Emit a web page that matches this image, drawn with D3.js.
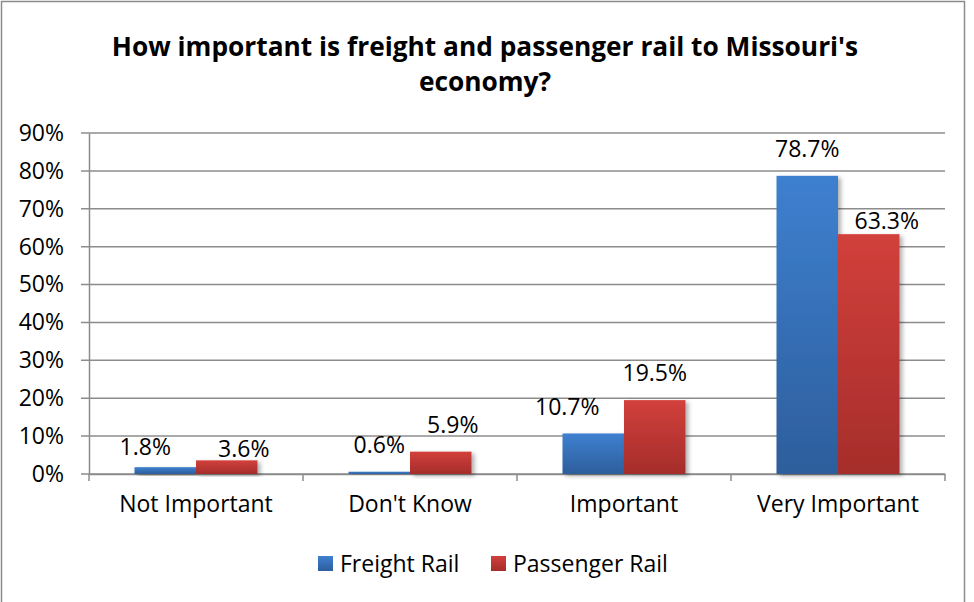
<!DOCTYPE html>
<html>
<head>
<meta charset="utf-8">
<script src="https://cdn.jsdelivr.net/npm/d3@7"></script>
<style>
  body { margin: 0; background: #fff; }
  text { font-family: "Open Sans", sans-serif; fill: #000; }
</style>
</head>
<body>
<script>
// chart data
var categories = ["Not Important", "Don't Know", "Important", "Very Important"];
var seriesNames = ["Freight Rail", "Passenger Rail"];
var freight = [1.8, 0.6, 10.7, 78.7];
var passenger = [3.6, 5.9, 19.5, 63.3];
var yTicks = [0, 10, 20, 30, 40, 50, 60, 70, 80, 90];

var svgWidth = 974;
var svgHeight = 602;
var fontSize = 23;

// label gap above bars, plus the labels that were moved by hand in the original [dx, dy]
var labelGap = 19;
var labelNudge = {
  "Not Important": [[-20, 7], [17, 16]],
  "Don't Know": [[0, 0], [12, 0]],
  "Important": [[-26, 1], [0, 0]],
  "Very Important": [[0, 0], [18, 14]]
};

var margin = { top: 133, right: 29, bottom: 128, left: 89 };
var chartWidth = svgWidth - margin.left - margin.right;
var chartHeight = svgHeight - margin.top - margin.bottom;

var svg = d3.select("body")
  .append("svg")
  .attr("width", svgWidth)
  .attr("height", svgHeight);

// outer frame
svg.append("rect")
  .attr("x", 1.5).attr("y", 1.5)
  .attr("width", 963).attr("height", 610)
  .attr("fill", "none")
  .attr("stroke", "#8c8c8c")
  .attr("stroke-width", 1.5);

// gradients for bars
var defs = svg.append("defs");
var colors = [["#3e80d0", "#2d5e9c"], ["#d2403b", "#a52d2b"]];
colors.forEach(function(c, i) {
  var g = defs.append("linearGradient")
    .attr("id", "grad" + i)
    .attr("x1", 0).attr("y1", 0).attr("x2", 0).attr("y2", 1);
  g.append("stop").attr("offset", "0%").attr("stop-color", c[0]);
  g.append("stop").attr("offset", "100%").attr("stop-color", c[1]);
});
var shadow = defs.append("filter").attr("id", "shadow")
  .attr("x", "-20%").attr("y", "-10%").attr("width", "150%").attr("height", "130%");
shadow.append("feDropShadow")
  .attr("dx", 3).attr("dy", 2).attr("stdDeviation", 2)
  .attr("flood-color", "#000").attr("flood-opacity", 0.3);

// title
var title = svg.append("text")
  .attr("text-anchor", "middle")
  .attr("font-size", 26.3)
  .attr("font-weight", "bold");
title.append("tspan").attr("x", 485).attr("y", 56)
  .text("How important is freight and passenger rail to Missouri's");
title.append("tspan").attr("x", 485).attr("y", 91)
  .text("economy?");

var chartGroup = svg.append("g")
  .attr("transform", `translate(${margin.left}, ${margin.top})`);

var xBand = d3.scaleBand()
  .domain(categories)
  .range([0, chartWidth]);

var xInner = d3.scaleBand()
  .domain(seriesNames)
  .range([0, xBand.bandwidth()])
  .paddingOuter(0.74)
  .paddingInner(0);

var yScale = d3.scaleLinear()
  .domain([0, 90])
  .range([chartHeight, 0]);

// gridlines
chartGroup.append("g")
  .selectAll("line")
  .data(yTicks)
  .enter()
  .append("line")
  .attr("x1", -8)
  .attr("x2", chartWidth)
  .attr("y1", d => yScale(d))
  .attr("y2", d => yScale(d))
  .attr("stroke", "#8c8c8c")
  .attr("stroke-width", 1.5);

// y axis
var leftAxis = d3.axisLeft(yScale)
  .tickValues(yTicks)
  .tickFormat(d => d + "%")
  .tickSize(0)
  .tickPadding(25);
var yAxisG = chartGroup.append("g").call(leftAxis);
yAxisG.select(".domain").attr("stroke", "#8c8c8c").attr("stroke-width", 1.5);
yAxisG.selectAll("text")
  .attr("font-size", fontSize)
  .attr("fill", "#000")
  .style("font-family", "'Open Sans', sans-serif");

// x axis
var bottomAxis = d3.axisBottom(xBand)
  .tickSize(7)
  .tickPadding(15)
  .tickSizeOuter(0);
var xAxisG = chartGroup.append("g")
  .attr("transform", `translate(0, ${chartHeight})`)
  .call(bottomAxis);
xAxisG.select(".domain").attr("stroke", "#8c8c8c").attr("stroke-width", 1.5);
// ticks at band boundaries
xAxisG.selectAll(".tick line").remove();
xAxisG.selectAll(".bound")
  .data(d3.range(categories.length + 1))
  .enter()
  .append("line")
  .attr("x1", i => i * xBand.bandwidth())
  .attr("x2", i => i * xBand.bandwidth())
  .attr("y1", 0).attr("y2", 7)
  .attr("stroke", "#8c8c8c")
  .attr("stroke-width", 1.5);
xAxisG.selectAll("text")
  .attr("font-size", fontSize)
  .attr("fill", "#000")
  .style("font-family", "'Open Sans', sans-serif");

// bars
var rows = categories.map(function(c, i) {
  return { category: c, values: [freight[i], passenger[i]] };
});

var groups = chartGroup.selectAll(".grp")
  .data(rows)
  .enter()
  .append("g")
  .attr("transform", d => `translate(${xBand(d.category)}, 0)`);

groups.selectAll("rect")
  .data(d => d.values.map((v, j) => ({ name: seriesNames[j], value: v, idx: j })))
  .enter()
  .append("rect")
  .attr("x", d => xInner(d.name))
  .attr("y", d => yScale(d.value))
  .attr("width", xInner.bandwidth())
  .attr("height", d => chartHeight - yScale(d.value))
  .attr("fill", d => `url(#grad${d.idx})`)
  .attr("filter", "url(#shadow)");

groups.selectAll(".lbl")
  .data(d => d.values.map((v, j) => ({
    name: seriesNames[j], value: v,
    nudge: labelNudge[d.category][j]
  })))
  .enter()
  .append("text")
  .attr("class", "lbl")
  .attr("x", d => xInner(d.name) + xInner.bandwidth() / 2 + d.nudge[0])
  .attr("y", d => yScale(d.value) - labelGap + d.nudge[1])
  .attr("text-anchor", "middle")
  .attr("font-size", fontSize)
  .text(d => d.value.toFixed(1) + "%");

// legend
var legendX = [318, 491];
var legend = svg.append("g");
seriesNames.forEach(function(name, i) {
  legend.append("rect")
    .attr("x", legendX[i]).attr("y", 556)
    .attr("width", 15).attr("height", 15)
    .attr("fill", `url(#grad${i})`);
  legend.append("text")
    .attr("x", legendX[i] + 22).attr("y", 572)
    .attr("font-size", fontSize)
    .text(name);
});
</script>
</body>
</html>
